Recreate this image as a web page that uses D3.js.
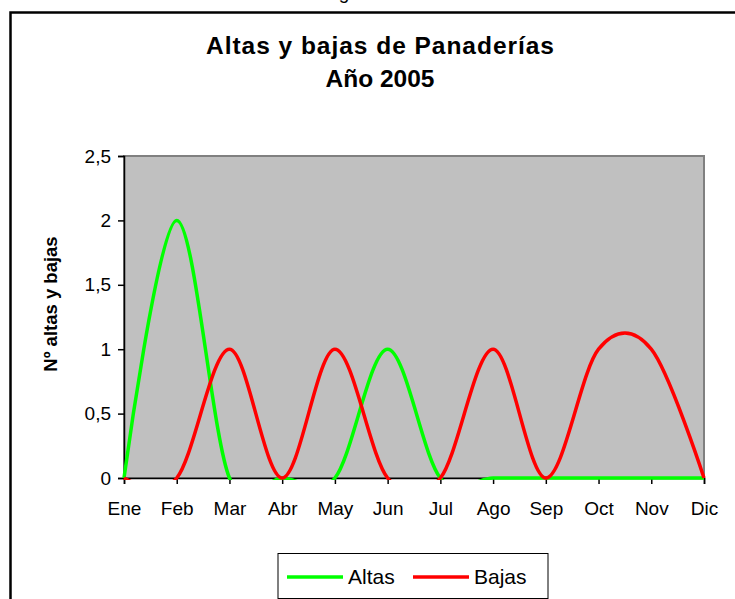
<!DOCTYPE html>
<html>
<head>
<meta charset="utf-8">
<script src="https://cdn.jsdelivr.net/npm/d3@7"></script>
<style>
  body { margin: 0; background: #fff; }
  text { font-family: Arial, "Liberation Sans", sans-serif; }
</style>
</head>
<body>
<div id="chart"></div>
<script>
// monthly data, Año 2005
const months = ["Ene", "Feb", "Mar", "Abr", "May", "Jun", "Jul", "Ago", "Sep", "Oct", "Nov", "Dic"];
const altas = [0, 2, 0, 0, 0, 1, 0, 0, 0, 0, 0, 0];
const bajas = [0, 0, 1, 0, 1, 0, 0, 1, 0, 1, 1, 0];
const yTicks = [0, 0.5, 1, 1.5, 2, 2.5];
const seriesNames = ["Altas", "Bajas"];
const seriesColors = ["#00ff00", "#ff0000"];

const W = 735, H = 599;
const plot = { left: 124, right: 704, top: 156, bottom: 478 };

const svg = d3.select("#chart").append("svg")
    .attr("width", W)
    .attr("height", H);

// fragment of page text above the chart
svg.append("text")
    .attr("x", 344).attr("y", -1)
    .attr("text-anchor", "middle")
    .attr("font-size", 19)
    .text("g");

// chart frame
svg.append("rect")
    .attr("x", 10.5).attr("y", 12.5)
    .attr("width", 745).attr("height", 620)
    .attr("fill", "#fff")
    .attr("stroke", "#000")
    .attr("stroke-width", 2.5);

// title
const title = svg.append("text")
    .attr("text-anchor", "middle")
    .attr("font-size", 24.5)
    .attr("font-weight", "bold");
title.append("tspan").attr("x", 380).attr("y", 54)
    .attr("textLength", 348).attr("lengthAdjust", "spacing")
    .text("Altas y bajas de Panaderías");
title.append("tspan").attr("x", 380).attr("y", 87).text("Año 2005");

// scales
const x = d3.scalePoint().domain(months).range([plot.left, plot.right]);
const y = d3.scaleLinear().domain([0, 2.5]).range([plot.bottom, plot.top]);

// plot area
svg.append("rect")
    .attr("x", plot.left).attr("y", plot.top)
    .attr("width", plot.right - plot.left)
    .attr("height", plot.bottom - plot.top)
    .attr("fill", "#c0c0c0")
    .attr("stroke", "#808080")
    .attr("stroke-width", 2);

// axes
const fmt = d => String(d).replace(".", ",");
const yAxis = svg.append("g")
    .attr("transform", "translate(" + plot.left + ",0)")
    .call(d3.axisLeft(y).tickValues(yTicks).tickFormat(fmt).tickSize(6).tickPadding(7));
const xAxis = svg.append("g")
    .attr("transform", "translate(0," + plot.bottom + ")")
    .call(d3.axisBottom(x).tickSize(6).tickPadding(18));

[yAxis, xAxis].forEach(a => {
    a.select(".domain").attr("stroke", "#000").attr("stroke-width", 1.5);
    a.selectAll(".tick line").attr("stroke", "#000").attr("stroke-width", 1.5);
    a.selectAll(".tick text")
        .attr("font-family", "Arial, 'Liberation Sans', sans-serif")
        .attr("font-size", 19)
        .attr("fill", "#000");
});

// y axis title
svg.append("text")
    .attr("transform", "translate(57,304) rotate(-90)")
    .attr("text-anchor", "middle")
    .attr("font-size", 18.5)
    .attr("font-weight", "bold")
    .text("Nº altas y bajas");

// clip so the smoothed dips below zero are hidden
svg.append("clipPath").attr("id", "clip")
    .append("rect")
    .attr("x", plot.left - 2).attr("y", plot.top)
    .attr("width", plot.right - plot.left + 4)
    .attr("height", plot.bottom - plot.top + 2);

const line = d3.line()
    .x((d, i) => x(months[i]))
    .y(d => y(d))
    .curve(d3.curveCardinal.tension(0));

const lines = svg.append("g").attr("clip-path", "url(#clip)");
[altas, bajas].forEach((s, i) => {
    lines.append("path")
        .datum(s)
        .attr("fill", "none")
        .attr("stroke", seriesColors[i])
        .attr("stroke-width", 3.5)
        .attr("d", line);
});

// legend
const legend = svg.append("g");
legend.append("rect")
    .attr("x", 278).attr("y", 553.5)
    .attr("width", 270).attr("height", 45)
    .attr("fill", "#fff")
    .attr("stroke", "#000")
    .attr("stroke-width", 1);
const lx = [287, 413];
seriesNames.forEach((n, i) => {
    legend.append("line")
        .attr("x1", lx[i]).attr("x2", lx[i] + 56)
        .attr("y1", 577).attr("y2", 577)
        .attr("stroke", seriesColors[i])
        .attr("stroke-width", 3.5);
    legend.append("text")
        .attr("x", lx[i] + 61).attr("y", 584)
        .attr("font-size", 21)
        .text(n);
});
</script>
</body>
</html>
